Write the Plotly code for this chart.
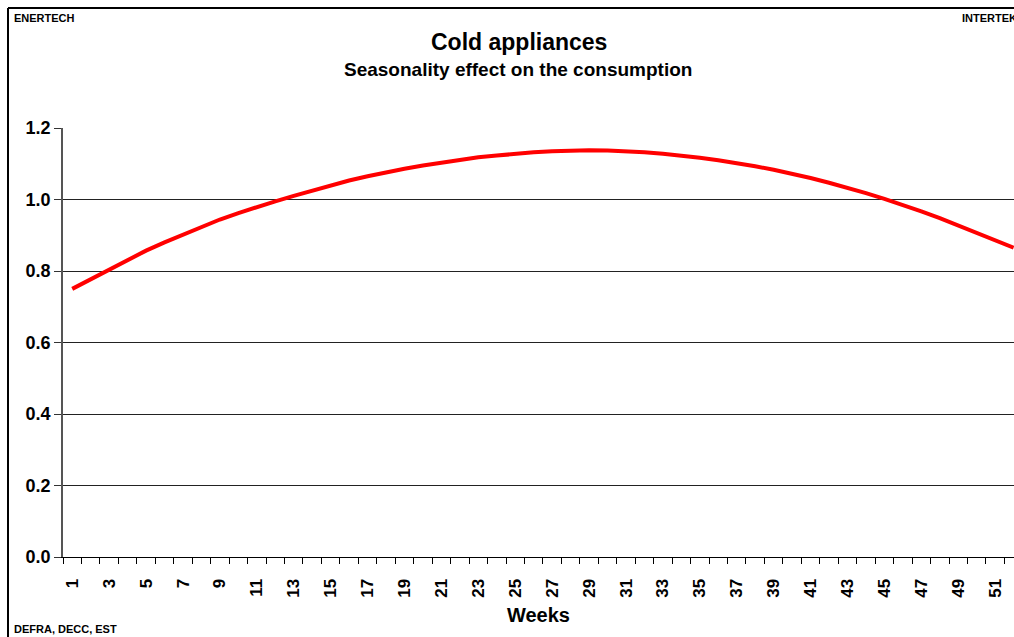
import plotly.graph_objects as go

weeks = list(range(1, 53))
seasonality = [
    0.750, 0.777, 0.803, 0.831, 0.857, 0.880, 0.902, 0.924, 0.944, 0.962,
    0.979, 0.995, 1.010, 1.025, 1.039, 1.053, 1.065, 1.076, 1.086, 1.095,
    1.103, 1.111, 1.118, 1.123, 1.128, 1.132, 1.135, 1.137, 1.138, 1.137,
    1.135, 1.132, 1.128, 1.123, 1.117, 1.110, 1.102, 1.093, 1.083, 1.072,
    1.060, 1.047, 1.033, 1.018, 1.002, 0.985, 0.967, 0.948, 0.928, 0.907,
    0.885, 0.865,
]
x_labels = [w for w in weeks if w % 2 == 1]
y_ticks = [0.0, 0.2, 0.4, 0.6, 0.8, 1.0, 1.2]

FONT = 'Arial, Liberation Sans, sans-serif'

fig = go.Figure(go.Scatter(
    x=weeks, y=seasonality, mode='lines',
    line=dict(color='#ff0000', width=4),
    hoverinfo='x+y', showlegend=False,
))

# plot area: x 63..1014, y 128..557
fig.update_layout(
    width=1014, height=637,
    margin=dict(l=63, r=0, t=128, b=80),
    paper_bgcolor='white', plot_bgcolor='white',
    font=dict(family=FONT, color='black'),
    xaxis=dict(
        range=[0.5, 52.02], tickvals=x_labels,
        ticktext=['<b>%d</b>' % w for w in x_labels],
        tickangle=-90, ticks='outside', ticklen=14, tickcolor='rgba(0,0,0,0)',
        showgrid=False, zeroline=False,
        showline=True, linecolor='black', linewidth=1,
        tickfont=dict(family=FONT, size=17, color='black'),
        minor=dict(ticks='outside', tick0=0.5, dtick=1, ticklen=6,
                   tickcolor='black', showgrid=False),
        title=dict(text='<b>Weeks</b>', font=dict(family=FONT, size=20), standoff=11),
    ),
    yaxis=dict(
        range=[0, 1.2], tickvals=y_ticks, ticktext=['<b>%.1f</b>' % v for v in y_ticks],
        ticks='outside', ticklen=7, tickcolor='#333', zeroline=False,
        showgrid=True, gridcolor='#222', gridwidth=1,
        showline=True, linecolor='#555', linewidth=1.5,
        tickfont=dict(family=FONT, size=18, color='black'),
    ),
)

# frame lines around the chart (left and top edges)
fig.add_shape(type='line', xref='paper', yref='paper',
              x0=-55 / 951, x1=1.0, y0=(557 - 8) / 429, y1=(557 - 8) / 429,
              line=dict(color='black', width=2))
fig.add_shape(type='line', xref='paper', yref='paper',
              x0=-55 / 951, x1=-55 / 951, y0=(557 - 8) / 429, y1=-80 / 429,
              line=dict(color='black', width=2))

annotations = [
    dict(text='<b>Cold appliances</b>', x=(519 - 63) / 951, y=(557 - 42) / 429,
         size=23, xanchor='center'),
    dict(text='<b>Seasonality effect on the consumption</b>', x=(518 - 63) / 951,
         y=(557 - 70) / 429, size=19, xanchor='center'),
    dict(text='<b>ENERTECH</b>', x=-51 / 951, y=(557 - 18) / 429, size=11, xanchor='left'),
    dict(text='<b>INTERTEK</b>', x=(960 - 63) / 951, y=(557 - 18) / 429, size=11, xanchor='left'),
    dict(text='<b>DEFRA, DECC, EST</b>', x=-51 / 951, y=(557 - 629) / 429, size=11,
         xanchor='left'),
]
for a in annotations:
    fig.add_annotation(text=a['text'], x=a['x'], y=a['y'], xref='paper', yref='paper',
                       xanchor=a['xanchor'], yanchor='middle', showarrow=False,
                       font=dict(family=FONT, size=a['size'], color='black'))

# drop the default 8px page margin so the figure fills the window
fig.write_html('out.html', config={'displayModeBar': False},
               post_script="document.body.style.margin='0px';")
